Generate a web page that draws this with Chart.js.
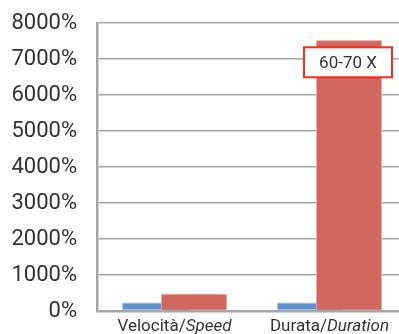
<!DOCTYPE html>
<html>
<head>
<meta charset="utf-8">
<script src="https://cdn.jsdelivr.net/npm/chart.js@4"></script>
<style>
  html, body { margin: 0; padding: 0; background: #fff; overflow: hidden; }
  .wrap { position: relative; width: 410px; height: 334px; }
</style>
</head>
<body>
<div class="wrap"><canvas id="chart"></canvas></div>
<script>
const categories = ["Velocità", "Durata"];
const categoriesEn = ["Speed", "Duration"];
const baseValues = [235, 235];
const newValues = [480, 7520];
const yTicks = [0, 1000, 2000, 3000, 4000, 5000, 6000, 7000, 8000];
const calloutText = "60-70 X";

const FONT = "Roboto, 'Liberation Sans', sans-serif";
const GRID = "#a6a6a6";
const TEXT = "#333333";

// category labels: italian part upright, english part italic
const categoryLabels = {
  id: "categoryLabels",
  afterDraw(chart) {
    const { ctx, scales } = chart;
    const x = scales.x;
    ctx.save();
    ctx.fillStyle = TEXT;
    ctx.textBaseline = "alphabetic";
    categories.forEach((cat, i) => {
      const cx = x.getPixelForTick(i);
      const first = cat + "/";
      ctx.font = "17px " + FONT;
      const w1 = ctx.measureText(first).width;
      ctx.font = "italic 17px " + FONT;
      const w2 = ctx.measureText(categoriesEn[i]).width;
      const left = cx - (w1 + w2) / 2;
      const y = 331;
      ctx.font = "17px " + FONT;
      ctx.textAlign = "left";
      ctx.fillText(first, left, y);
      ctx.font = "italic 17px " + FONT;
      ctx.fillText(categoriesEn[i], left + w1, y);
    });
    ctx.restore();
  },
};

// red bars overlap the blue ones: redraw them on top, then the boxed note
const overlay = {
  id: "overlay",
  afterDatasetsDraw(chart) {
    const redMeta = chart.getDatasetMeta(1);
    redMeta.controller.draw();
    const bar = redMeta.data[1];
    if (!bar) return;
    const { ctx } = chart;
    const w = 88;
    const h = 30;
    const cx = bar.x - 1;
    const cy = bar.y + 22;
    ctx.save();
    ctx.fillStyle = "#ffffff";
    ctx.fillRect(cx - w / 2, cy - h / 2, w, h);
    ctx.strokeStyle = "#f0301e";
    ctx.lineWidth = 2;
    ctx.strokeRect(cx - w / 2, cy - h / 2, w, h);
    ctx.fillStyle = TEXT;
    ctx.font = "17px " + FONT;
    ctx.textAlign = "center";
    ctx.textBaseline = "middle";
    ctx.fillText(calloutText, cx, cy + 1);
    ctx.restore();
  },
};

new Chart(document.getElementById("chart"), {
  type: "bar",
  data: {
    labels: categories,
    datasets: [
      {
        label: "base",
        data: baseValues,
        backgroundColor: "#5b8fcf",
        borderColor: "#9fbde3",
        borderWidth: 1,
        borderSkipped: "bottom",
        categoryPercentage: 0.503,
        barPercentage: 1.69,
      },
      {
        label: "new",
        data: newValues,
        backgroundColor: "#d2675f",
        borderColor: "#e9aaa4",
        borderWidth: 1,
        borderSkipped: "bottom",
        categoryPercentage: 0.503,
        barPercentage: 1.69,
      },
    ],
  },
  options: {
    responsive: true,
    maintainAspectRatio: false,
    animation: false,
    layout: { padding: { top: 23, right: 3, left: 0, bottom: 0 } },
    plugins: {
      legend: { display: false },
      tooltip: { enabled: false },
    },
    scales: {
      x: {
        grid: { display: false },
        border: { display: false },
        ticks: { display: false },
        afterFit: (scale) => { scale.height = 23; },
      },
      y: {
        min: 0,
        max: 8000,
        afterBuildTicks: (scale) => { scale.ticks = yTicks.map((v) => ({ value: v })); },
        grid: {
          color: GRID,
          lineWidth: (c) => (c.tick && c.tick.value === 0 ? 2.5 : 1.5),
          drawTicks: false,
        },
        border: { display: true, color: GRID, width: 2.5 },
        ticks: {
          color: TEXT,
          font: { family: FONT, size: 22 },
          padding: 20,
          callback: (v) => v + "%",
        },
        afterFit: (scale) => {
          scale.width = 97;
          scale.paddingTop = 0;
          scale.paddingBottom = 0;
        },
      },
    },
  },
  plugins: [categoryLabels, overlay],
});
</script>
</body>
</html>
